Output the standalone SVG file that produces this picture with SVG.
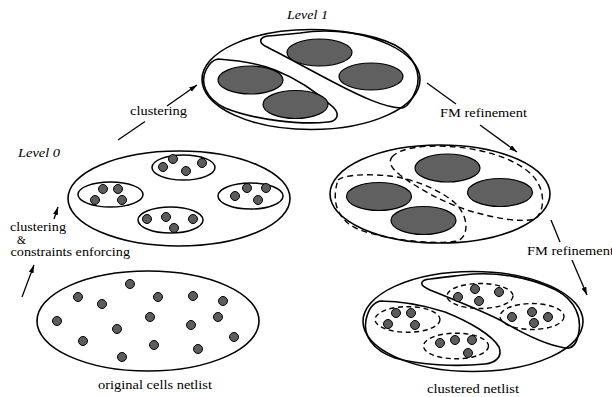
<svg xmlns="http://www.w3.org/2000/svg" width="612" height="397" viewBox="0 0 612 397">
  <style>
    .outer { fill: #ffffff; stroke: #000; stroke-width: 1.6; }
    .part { fill: none; stroke: #000; stroke-width: 1.6; }
    .dpart { fill: none; stroke: #000; stroke-width: 1.4; stroke-dasharray: 6 4; }
    .clu { fill: none; stroke: #000; stroke-width: 1.5; }
    .dclu { fill: none; stroke: #000; stroke-width: 1.4; stroke-dasharray: 5 3.5; }
    .big { fill: #606060; stroke: #000; stroke-width: 1.2; }
    .cell { fill: #5c5c5c; stroke: #000; stroke-width: 1; }
    .edge { fill: none; stroke: #000; stroke-width: 1.3; }
    .lbl { font-family: "Liberation Serif", "Times New Roman", serif; font-size: 12.5px; fill: #000; }
    .sm { font-size: 11.5px; }
    .lvl { font-family: "Liberation Serif", "Times New Roman", serif; font-size: 13px; font-style: italic; fill: #000; }
  </style>
  <defs>
    <marker id="arrow" markerUnits="userSpaceOnUse" markerWidth="10" markerHeight="6" refX="8" refY="2.5" orient="auto">
      <path d="M0,0 L8,2.5 L0,5 Z" fill="#000"/>
    </marker>
    <circle id="dot" r="4.5" class="cell"/>
  </defs>

  <!-- original cells netlist -->
  <g id="netlist">
    <ellipse class="outer" cx="148" cy="321" rx="111" ry="50"/>
    <use href="#dot" x="130" y="284"/>
    <use href="#dot" x="78" y="297"/>
    <use href="#dot" x="102" y="304"/>
    <use href="#dot" x="158" y="297"/>
    <use href="#dot" x="193" y="296"/>
    <use href="#dot" x="223" y="301"/>
    <use href="#dot" x="57" y="321"/>
    <use href="#dot" x="150" y="317"/>
    <use href="#dot" x="117" y="329"/>
    <use href="#dot" x="191" y="325"/>
    <use href="#dot" x="218" y="317"/>
    <use href="#dot" x="83" y="341"/>
    <use href="#dot" x="154" y="345"/>
    <use href="#dot" x="198" y="349"/>
    <use href="#dot" x="234" y="337"/>
    <use href="#dot" x="122" y="357"/>
    <text class="lbl" x="98" y="389" textLength="114" lengthAdjust="spacingAndGlyphs">original cells netlist</text>
  </g>

  <!-- level 0: cells grouped into four clusters -->
  <g id="level0">
    <ellipse class="outer" cx="179" cy="198.5" rx="111" ry="47.5"/>
    <ellipse class="clu" cx="183.5" cy="167.5" rx="31.5" ry="12.5"/>
    <use href="#dot" x="163" y="167"/>
    <use href="#dot" x="173" y="159"/>
    <use href="#dot" x="186" y="171"/>
    <use href="#dot" x="202" y="163"/>
    <ellipse class="clu" cx="110.5" cy="194.5" rx="32.5" ry="12.5"/>
    <use href="#dot" x="103" y="189"/>
    <use href="#dot" x="118" y="189"/>
    <use href="#dot" x="95" y="200"/>
    <use href="#dot" x="122" y="200"/>
    <ellipse class="clu" cx="250.5" cy="196" rx="32.5" ry="13"/>
    <use href="#dot" x="235" y="196"/>
    <use href="#dot" x="247" y="188"/>
    <use href="#dot" x="266" y="188"/>
    <use href="#dot" x="258" y="200"/>
    <ellipse class="clu" cx="170.5" cy="220" rx="32.5" ry="13"/>
    <use href="#dot" x="147" y="219"/>
    <use href="#dot" x="166" y="217"/>
    <use href="#dot" x="174" y="228"/>
    <use href="#dot" x="193" y="219"/>
    <text class="lvl" x="18" y="157" textLength="42" lengthAdjust="spacingAndGlyphs">Level 0</text>
  </g>

  <!-- level 1: clusters as nodes, initial bipartition -->
  <g id="level1">
    <ellipse class="outer" cx="311" cy="79.5" rx="109" ry="50"/>
    <path class="part" d="M218,59 C232,60 255,62 275,70 C300,80 320,95 333,107 C340,114 338,121 328,122 C300,125 255,120 225,108 C205,98 200,82 206,70 C209,64 212,60 218,59 Z"/>
    <path class="part" d="M300,33 C330,28 370,33 395,45 C415,56 422,75 416,90 C412,100 408,107 402,108 C385,108 360,96 335,83 C310,70 285,56 265,46 C258,42 260,37 268,36 C280,35 290,34 300,33 Z"/>
    <ellipse class="big" cx="319.5" cy="52.5" rx="32.5" ry="13.5"/>
    <ellipse class="big" cx="250.5" cy="80" rx="32.5" ry="14"/>
    <ellipse class="big" cx="371" cy="76.5" rx="32" ry="13.5"/>
    <ellipse class="big" cx="295.5" cy="104.5" rx="32.5" ry="14"/>
    <text class="lvl" x="287" y="19" textLength="41" lengthAdjust="spacingAndGlyphs">Level 1</text>
  </g>

  <!-- level 1 after FM refinement -->
  <g id="level1-refined">
    <ellipse class="outer" cx="440" cy="194" rx="110" ry="49"/>
    <path class="dpart" d="M338,180 C345,174 370,174 390,176 C415,179 440,190 455,203 C468,215 470,235 458,241 C430,245 390,240 360,230 C340,222 330,205 338,180 Z"/>
    <path class="dpart" d="M392,157 C400,148 420,146 440,146 C480,147 515,158 532,175 C545,188 546,210 535,219 C520,223 495,218 470,211 C445,203 420,190 400,175 C391,168 388,162 392,157 Z"/>
    <ellipse class="big" cx="447.5" cy="168" rx="32.5" ry="14"/>
    <ellipse class="big" cx="379" cy="196.5" rx="32.5" ry="14"/>
    <ellipse class="big" cx="500" cy="192.5" rx="32.5" ry="14"/>
    <ellipse class="big" cx="423.5" cy="220.5" rx="32.5" ry="14"/>
  </g>

  <!-- clustered netlist after refinement -->
  <g id="clustered">
    <ellipse class="outer" cx="473" cy="321.5" rx="110" ry="50"/>
    <path class="part" d="M380,301 C395,301 420,304 445,312 C470,322 492,335 499,347 C503,357 495,363 485,364 C455,367 420,365 395,358 C372,350 363,335 366,320 C368,310 373,303 380,301 Z"/>
    <path class="part" d="M463,275 C495,271 530,277 556,290 C575,300 583,318 578,336 C576,345 572,349 565,348 C545,345 520,332 500,320 C480,310 455,300 430,290 C418,285 420,280 430,279 C445,277 455,276 463,275 Z"/>
    <ellipse class="dclu" cx="480" cy="296" rx="33" ry="12.5"/>
    <use href="#dot" x="458" y="297"/>
    <use href="#dot" x="475" y="289"/>
    <use href="#dot" x="479" y="301"/>
    <use href="#dot" x="499" y="292"/>
    <ellipse class="dclu" cx="407.5" cy="319.5" rx="32.5" ry="12.8"/>
    <use href="#dot" x="396" y="313"/>
    <use href="#dot" x="411" y="313"/>
    <use href="#dot" x="388" y="324"/>
    <use href="#dot" x="415" y="325"/>
    <ellipse class="dclu" cx="532" cy="316.5" rx="32" ry="13"/>
    <use href="#dot" x="512" y="317"/>
    <use href="#dot" x="532" y="312"/>
    <use href="#dot" x="534" y="323"/>
    <use href="#dot" x="548" y="317"/>
    <ellipse class="dclu" cx="456" cy="346" rx="32.5" ry="12.8"/>
    <use href="#dot" x="440" y="343"/>
    <use href="#dot" x="455" y="340"/>
    <use href="#dot" x="472" y="340"/>
    <use href="#dot" x="468" y="353"/>
    <text class="lbl" x="427" y="393" textLength="92" lengthAdjust="spacingAndGlyphs">clustered netlist</text>
  </g>

  <!-- connectors and their labels -->
  <g id="connectors">
    <line class="edge" x1="22" y1="297" x2="34" y2="265" marker-end="url(#arrow)"/>
    <line class="edge" x1="54" y1="219" x2="58" y2="207" marker-end="url(#arrow)"/>
    <text class="lbl sm" x="10" y="230.5" textLength="56" lengthAdjust="spacingAndGlyphs">clustering</text>
    <text class="lbl sm" x="17" y="244">&amp;</text>
    <text class="lbl sm" x="10.5" y="256" textLength="119.5" lengthAdjust="spacingAndGlyphs">constraints enforcing</text>

    <line class="edge" x1="118" y1="140" x2="145" y2="121.5"/>
    <line class="edge" x1="167" y1="106" x2="197" y2="85" marker-end="url(#arrow)"/>
    <text class="lbl" x="130" y="115" textLength="57" lengthAdjust="spacingAndGlyphs">clustering</text>

    <line class="edge" x1="427" y1="83" x2="456" y2="104"/>
    <line class="edge" x1="480" y1="125" x2="517" y2="152" marker-end="url(#arrow)"/>
    <text class="lbl" x="440" y="117" textLength="87" lengthAdjust="spacingAndGlyphs">FM refinement</text>

    <line class="edge" x1="551" y1="220" x2="560" y2="242"/>
    <line class="edge" x1="572" y1="260" x2="587" y2="295" marker-end="url(#arrow)"/>
    <text class="lbl" x="527" y="255" textLength="87" lengthAdjust="spacingAndGlyphs">FM refinement</text>
  </g>
</svg>
